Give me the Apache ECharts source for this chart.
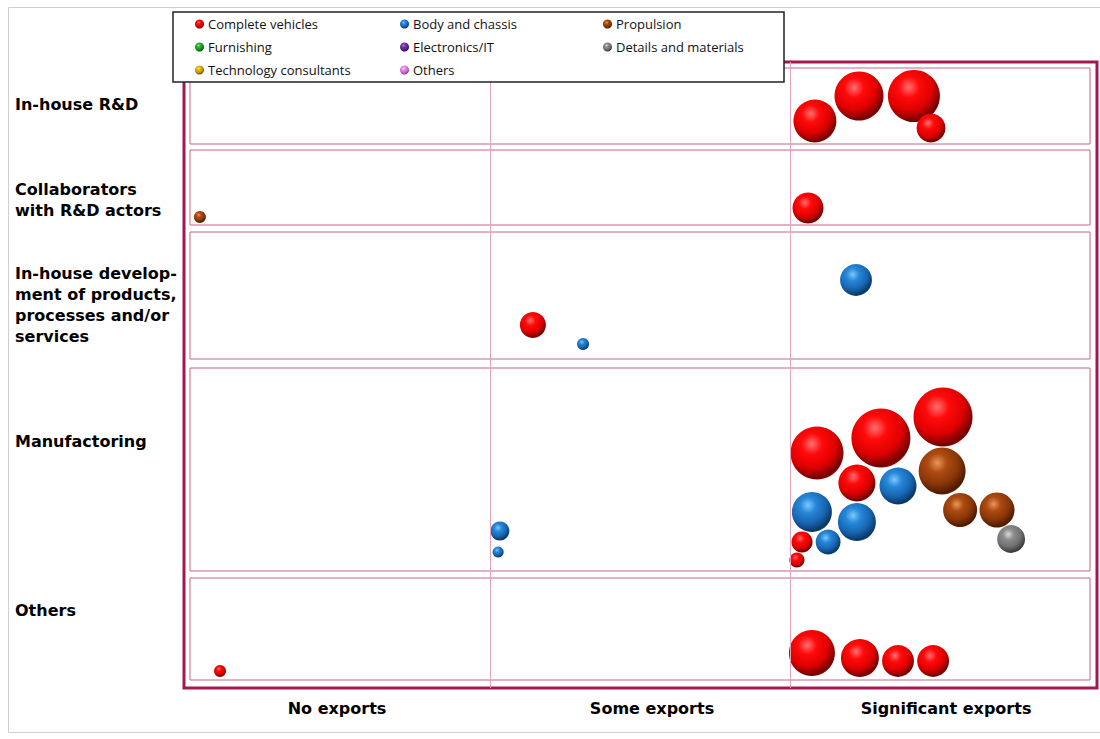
<!DOCTYPE html>
<html>
<head>
<meta charset="utf-8">
<title>Innovation activities by export level</title>
<script src="https://cdn.jsdelivr.net/npm/echarts@6/dist/echarts.min.js"></script>
<style>
  html, body { margin: 0; padding: 0; background: #ffffff; }
  #chart { width: 1100px; height: 739px; }
</style>
</head>
<body>
<div id="chart"></div>
<script>
// Export level categories along the horizontal axis (label text and label position on the 0–3 scale)
const exportLabels = ['No exports', 'Some exports', 'Significant exports'];
const exportLabelPos = [0.49, 1.54, 2.52];

// Activity bands on the vertical scale (bottom, top) and their label positions
const activityLabels = [
  'In-house R&D',
  'Collaborators\nwith R&D actors',
  'In-house develop-\nment of products,\nprocesses and/or\nservices',
  'Manufactoring',
  'Others'
];
const activityLabelPos = [58.4, 48.85, 38.35, 24.7, 7.8];
const activityBands = [[54.4, 62.0], [46.3, 53.8], [32.9, 45.6], [11.7, 32.0], [0.8, 11.0]];

// Boundaries between the export levels
const exportDividers = [1, 2];

// Bubbles per company group: [export level, activity position, weight]
const completeVehicles = [
  [2.083, 56.7, 12.8], [2.23, 59.2, 16.7], [2.413, 59.2, 18.8], [2.47, 56.0, 5.8],
  [2.06, 48.0, 6.7],
  [1.143, 36.3, 4.7],
  [2.09, 23.5, 19.5], [2.303, 25.0, 24.2], [2.51, 27.1, 24.2], [2.223, 20.5, 9.5],
  [2.04, 14.6, 3.1], [2.023, 12.8, 1.6],
  [0.1, 1.7, 1.0], [2.073, 3.5, 14.7], [2.233, 3.0, 10.0], [2.36, 2.7, 7.1], [2.477, 2.7, 7.1]
];
const bodyAndChassis = [
  [2.22, 40.8, 7.1], [1.31, 34.4, 1.0],
  [2.36, 20.2, 9.5], [2.073, 17.6, 11.1], [2.223, 16.6, 10.0], [2.127, 14.6, 4.3],
  [1.033, 15.7, 2.5], [1.027, 13.6, 0.85]
];
const propulsion = [
  [0.033, 47.1, 1.0],
  [2.507, 21.7, 15.3], [2.567, 17.8, 8.0], [2.69, 17.8, 8.5]
];
const furnishing = [];
const electronicsIT = [];
const detailsAndMaterials = [
  [2.737, 14.9, 5.4]
];
const technologyConsultants = [];
const others = [];

// Shaded sphere fill for each group
function sphere(light, base, mid, dark) {
  return {
    type: 'radial', x: 0.4, y: 0.33, r: 0.72,
    colorStops: [
      { offset: 0, color: light },
      { offset: 0.28, color: base },
      { offset: 0.62, color: mid },
      { offset: 0.92, color: dark },
      { offset: 1, color: mid }
    ]
  };
}

const groups = [
  { name: 'Complete vehicles', data: completeVehicles, color: sphere('#ff7070', '#ff0a0a', '#e00000', '#6e0000') },
  { name: 'Body and chassis', data: bodyAndChassis, color: sphere('#7cc8ff', '#2787d8', '#1766b2', '#0a3563') },
  { name: 'Propulsion', data: propulsion, color: sphere('#e8965c', '#ad4b12', '#8a3608', '#4a1a00') },
  { name: 'Furnishing', data: furnishing, color: sphere('#8ce88c', '#2cb52c', '#1c901c', '#0c500c') },
  { name: 'Electronics/IT', data: electronicsIT, color: sphere('#b67ce6', '#7434a8', '#5a2490', '#2c0c50') },
  { name: 'Details and materials', data: detailsAndMaterials, color: sphere('#d8d8d8', '#8c8c8c', '#707070', '#383838') },
  { name: 'Technology consultants', data: technologyConsultants, color: sphere('#ffe27a', '#e8b400', '#c49400', '#6a4e00') },
  { name: 'Others', data: others, color: sphere('#ffd0ff', '#e488ec', '#c86cd0', '#804088') }
];

const legendColumns = [
  ['Complete vehicles', 'Furnishing', 'Technology consultants'],
  ['Body and chassis', 'Electronics/IT', 'Others'],
  ['Propulsion', 'Details and materials']
];
const legendColumnLeft = [195, 400, 603];

const chart = echarts.init(document.getElementById('chart'), null, { renderer: 'svg' });

const bandLine = '#c8658c';
const dividerStyle = { color: '#e0a3ba', width: 1, type: 'solid', opacity: 1 };

const series = [
  {
    // frame of the activity bands and export dividers
    type: 'scatter',
    name: '__bands',
    data: [],
    z: 1,
    silent: true,
    markArea: {
      silent: true,
      itemStyle: { color: 'rgba(0,0,0,0)', borderColor: bandLine, borderWidth: 1 },
      label: { show: false },
      data: activityBands.map(b => [{ xAxis: 0, yAxis: b[0] }, { xAxis: 3, yAxis: b[1] }])
    },
    markLine: {
      silent: true,
      symbol: 'none',
      label: { show: false },
      lineStyle: dividerStyle,
      emphasis: { disabled: true },
      data: exportDividers.map(x => ({ xAxis: x, lineStyle: dividerStyle }))
    }
  }
].concat(groups.map(g => ({
  type: 'scatter',
  name: g.name,
  data: g.data,
  z: 3,
  symbol: 'circle',
  symbolSize: v => 12 * Math.sqrt(v[2]),
  itemStyle: { color: g.color, opacity: 1 },
  emphasis: { disabled: true }
})));

const textFont = 'DejaVu Sans';

chart.setOption({
  animation: false,
  backgroundColor: '#ffffff',
  grid: {
    left: 184, top: 62, width: 913, height: 626,
    show: true, borderColor: '#a3184f', borderWidth: 3, backgroundColor: 'transparent'
  },
  xAxis: {
    type: 'value', min: -0.02, max: 3.0233,
    axisLine: { show: false }, axisTick: { show: false }, splitLine: { show: false },
    axisLabel: {
      customValues: exportLabelPos,
      formatter: v => exportLabels[exportLabelPos.indexOf(v)] || '',
      margin: 12,
      color: '#000', fontFamily: textFont, fontWeight: 'bold', fontSize: 16
    }
  },
  yAxis: {
    type: 'value', min: 0, max: 62.6,
    axisLine: { show: false }, axisTick: { show: false }, splitLine: { show: false },
    axisLabel: {
      customValues: activityLabelPos,
      formatter: v => activityLabels[activityLabelPos.indexOf(v)] || '',
      align: 'left',
      margin: 169,
      lineHeight: 21,
      color: '#000', fontFamily: textFont, fontWeight: 'bold', fontSize: 16
    }
  },
  legend: legendColumns.map((col, i) => ({
    data: col,
    orient: 'vertical',
    left: legendColumnLeft[i],
    top: 17,
    padding: 0,
    itemGap: 9,
    itemWidth: 9,
    itemHeight: 9,
    icon: 'circle',
    z: 20,
    selectedMode: false,
    textStyle: { fontFamily: 'Open Sans', fontSize: 13, color: '#111', lineHeight: 14, padding: [0, 0, 0, -1] }
  })),
  graphic: [
    {
      type: 'rect', z: -10, silent: true,
      shape: { x: 8.5, y: 7.5, width: 1100, height: 725 },
      style: { fill: 'none', stroke: '#cfcfcf', lineWidth: 1 }
    },
    {
      type: 'rect', z: 10, silent: true,
      shape: { x: 173, y: 12, width: 611, height: 70 },
      style: { fill: '#ffffff', stroke: '#222222', lineWidth: 1.5 }
    }
  ],
  series: series
});
</script>
</body>
</html>
